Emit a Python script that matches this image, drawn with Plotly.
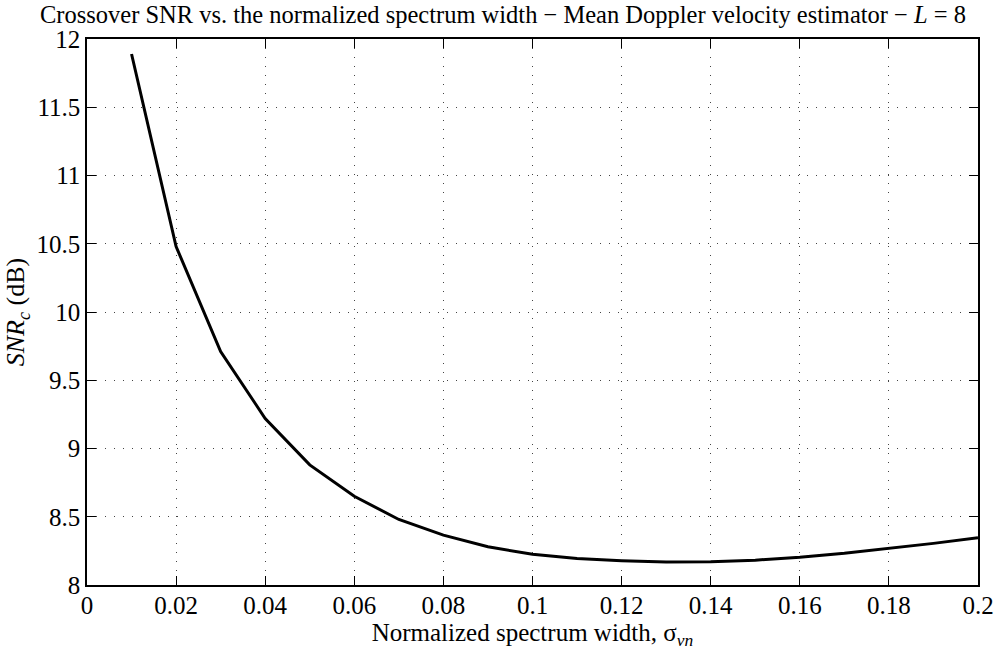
import plotly.graph_objects as go

# Crossover SNR (dB) against normalized spectrum width, L = 8
sigma_vn = [0.01, 0.02, 0.03, 0.04, 0.05, 0.06, 0.07, 0.08, 0.09, 0.10,
            0.11, 0.12, 0.13, 0.14, 0.15, 0.16, 0.17, 0.18, 0.19, 0.20]
snr_c = [11.89, 10.48, 9.71, 9.22, 8.88, 8.65, 8.48, 8.365, 8.28, 8.225,
         8.195, 8.178, 8.168, 8.170, 8.182, 8.203, 8.232, 8.266, 8.305, 8.347]

x_ticks = [0, 0.02, 0.04, 0.06, 0.08, 0.1, 0.12, 0.14, 0.16, 0.18, 0.2]
x_ticktext = ["0", "0.02", "0.04", "0.06", "0.08", "0.1", "0.12", "0.14", "0.16", "0.18", "0.2"]
y_ticks = [8, 8.5, 9, 9.5, 10, 10.5, 11, 11.5, 12]
y_ticktext = ["8", "8.5", "9", "9.5", "10", "10.5", "11", "11.5", "12"]

FONT = "Liberation Serif"
W, H = 1008, 655

fig = go.Figure(go.Scatter(
    x=sigma_vn, y=snr_c, mode="lines",
    line=dict(color="black", width=3),
    hoverinfo="skip", showlegend=False,
))

axis_common = dict(
    showline=True, linecolor="black", linewidth=1.5, mirror="ticks",
    ticks="inside", ticklen=9, tickwidth=1, tickcolor="black",
    showgrid=True, gridcolor="#444", gridwidth=1, griddash="1px,8px",
    zeroline=False,
    tickfont=dict(family=FONT, size=25, color="black"),
)

fig.update_layout(
    width=W, height=H,
    margin=dict(l=87, r=30, t=39, b=70),
    paper_bgcolor="white", plot_bgcolor="white",
    font=dict(family=FONT, color="black"),
    title=dict(
        text="Crossover SNR vs. the normalized spectrum width \u2212 Mean Doppler velocity estimator \u2212 <i>L</i> = 8",
        font=dict(family=FONT, size=24.5, color="black"),
        x=503 / W, xref="container", xanchor="center",
        y=1 - 14 / H, yref="container", yanchor="middle",
    ),
    xaxis=dict(
        range=[0, 0.2], tickvals=x_ticks, ticktext=x_ticktext,
        ticklabelstandoff=-3,
        title=dict(text="Normalized spectrum width, \u03c3<sub><i>vn</i></sub>",
                   font=dict(family=FONT, size=25, color="black"), standoff=0),
        **axis_common,
    ),
    yaxis=dict(
        range=[8, 12], tickvals=y_ticks, ticktext=y_ticktext,
        title=dict(text="<i>SNR</i><sub><i>c</i></sub> (dB)",
                   font=dict(family=FONT, size=26, color="black"), standoff=4),
        **axis_common,
    ),
)

fig.write_html("out.html")
